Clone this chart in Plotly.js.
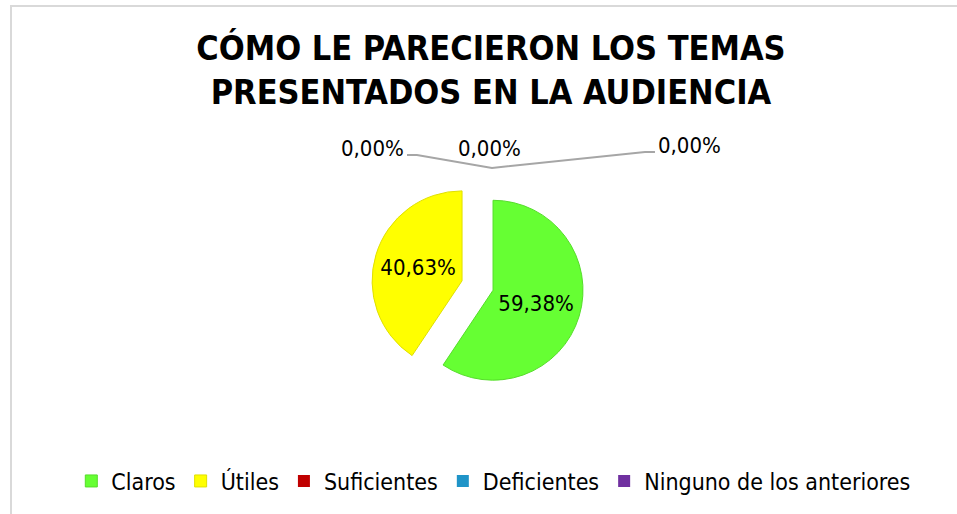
<!DOCTYPE html>
<html>
<head>
<meta charset="utf-8">
<script src="https://cdn.plot.ly/plotly-3.0.1.min.js"></script>
<style>
html,body{margin:0;padding:0;background:#fff;}
#wrap{position:relative;width:957px;height:514px;overflow:hidden;}
#chart{position:absolute;left:0;top:0;width:957px;height:514px;}
#frame{position:absolute;left:10px;top:5px;width:960px;height:520px;border-left:2px solid #d9d9d9;border-top:2px solid #d9d9d9;pointer-events:none;}
</style>
</head>
<body>
<div id="wrap"><div id="chart"></div><div id="frame"></div></div>
<script>
const categories = ['Claros', 'Útiles', 'Suficientes', 'Deficientes', 'Ninguno de los anteriores'];
const values = [59.38, 40.63, 0, 0, 0];
const colors = ['#66FF33', '#FFFF00', '#C00000', '#1F94C8', '#7030A0'];
const lineColors = ['#55DD2A', '#E0E000', '#900000', '#16709A', '#552380'];
const pulls = [0.18, 0.18, 0, 0, 0];

function fmt(v){ return v.toFixed(2).replace('.', ',') + '%'; }

const sliceText = values.map(v => v > 0 ? fmt(v) : '');
const lineWidths = values.map(v => v > 0 ? 1 : 0);

// labels for zero-valued slices (placed above the pie with leader lines)
const zeroPos = [[372, 148], [489, 148], [689, 145]];
const W = 957, H = 514;
const zeroIdx = values.map((v, i) => v === 0 ? i : -1).filter(i => i >= 0);
const annotations = zeroIdx.map((i, k) => ({
  x: zeroPos[k][0] / W, y: 1 - zeroPos[k][1] / H, xref: 'paper', yref: 'paper',
  xanchor: 'center', yanchor: 'middle',
  text: fmt(values[i]), showarrow: false,
  font: {family: 'DejaVu Sans Condensed', size: 22, color: '#000'}
}));

const leader = [[407,155],[417,155],[492,168],[645,152],[655,152]];
const path = 'M' + leader.map(p => (p[0]/W).toFixed(4) + ',' + (1 - p[1]/H).toFixed(4)).join(' L');

const trace = {
  type: 'pie',
  labels: categories,
  values: values,
  text: sliceText,
  textinfo: 'text',
  textposition: 'inside',
  insidetextorientation: 'horizontal',
  sort: false,
  direction: 'clockwise',
  rotation: 0,
  pull: pulls,
  marker: {colors: colors, line: {color: lineColors, width: lineWidths}},
  textfont: {family: 'DejaVu Sans Condensed', size: 22, color: '#000'},
  domain: {x: [0.388, 0.610], y: [0.238, 0.651]},
  hoverinfo: 'label+value'
};

const layout = {
  width: 957, height: 514,
  margin: {l: 0, r: 0, t: 0, b: 0},
  paper_bgcolor: '#fff',
  separators: ',.',
  title: {
    text: 'CÓMO LE PARECIERON LOS TEMAS<br>PRESENTADOS EN LA AUDIENCIA',
    x: 0.513, xanchor: 'center', y: 1 - 60/514, yanchor: 'middle', yref: 'container',
    font: {family: 'DejaVu Sans Condensed', size: 34, color: '#000', weight: 'bold'}
  },
  showlegend: true,
  legend: {
    orientation: 'h', x: 0.516, xanchor: 'center', y: 1 - 481/514, yanchor: 'middle',
    font: {family: 'DejaVu Sans Condensed', size: 23, color: '#000'},
    itemwidth: 30, traceorder: 'normal'
  },
  shapes: [{type: 'path', xref: 'paper', yref: 'paper', path: path, line: {color: '#A6A6A6', width: 2}}],
  annotations: annotations
};

Plotly.newPlot('chart', [trace], layout, {displayModeBar: false, staticPlot: true});
</script>
</body>
</html>
